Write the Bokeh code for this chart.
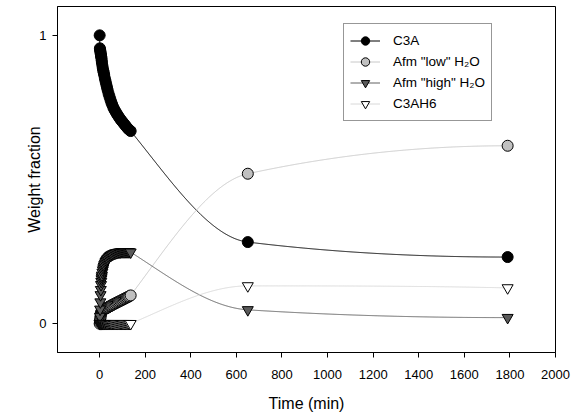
import numpy as np
from bokeh.plotting import figure
from bokeh.models import FixedTicker, Range1d, Legend, LegendItem
from bokeh.embed import file_html
from bokeh.resources import INLINE

# ---------------- data ----------------
t_dense = [0, 1, 2, 3, 4, 5, 6, 7, 8, 9, 10, 12, 14, 16, 18, 20, 23, 26, 29, 32, 35,
           39, 43, 47, 51, 55, 60, 65, 70, 75, 80, 85, 90, 95, 100, 105, 110, 115,
           120, 125, 130, 136]
t_late = [650, 1790]

c3a_dense = [1.000, 0.955, 0.950, 0.945, 0.940, 0.935, 0.930, 0.925, 0.920, 0.912,
             0.905, 0.895, 0.885, 0.877, 0.870, 0.862, 0.850, 0.840, 0.830, 0.820,
             0.810, 0.798, 0.788, 0.778, 0.768, 0.760, 0.750, 0.742, 0.735, 0.728,
             0.722, 0.716, 0.710, 0.705, 0.700, 0.695, 0.690, 0.685, 0.680, 0.676,
             0.672, 0.668]
c3a_late = [0.283, 0.231]

low_dense = [0.000, 0.006, 0.012, 0.018, 0.025, 0.030, 0.035, 0.039, 0.042, 0.044,
             0.046, 0.047, 0.048, 0.0485, 0.049, 0.050, 0.051, 0.053, 0.054, 0.055,
             0.056, 0.058, 0.060, 0.061, 0.063, 0.065, 0.067, 0.069, 0.071, 0.073,
             0.075, 0.077, 0.079, 0.081, 0.083, 0.085, 0.087, 0.089, 0.091, 0.093,
             0.095, 0.098]
low_late = [0.520, 0.617]

high_dense = [0.000, 0.025, 0.050, 0.075, 0.100, 0.118, 0.135, 0.146, 0.155, 0.162,
              0.168, 0.178, 0.186, 0.193, 0.199, 0.204, 0.210, 0.215, 0.219, 0.223,
              0.226, 0.230, 0.233, 0.236, 0.238, 0.240, 0.242, 0.244, 0.245, 0.246,
              0.247, 0.248, 0.248, 0.249, 0.249, 0.249, 0.249, 0.249, 0.249, 0.249,
              0.249, 0.248]
high_late = [0.048, 0.021]

c3ah6_dense = [0.0] * len(t_dense)
c3ah6_late = [0.131, 0.124]

labels = ["C3A", 'Afm "low" H\u2082O', 'Afm "high" H\u2082O', "C3AH6"]
x_ticks = list(range(0, 2001, 200))
y_ticks = [0, 1]


# ---------------- smooth connecting line (monotone cubic) ----------------
def pchip(x, y, xs):
    x = np.asarray(x, float)
    y = np.asarray(y, float)
    n = len(x)
    h = np.diff(x)
    d = np.diff(y) / h
    m = np.zeros(n)
    for k in range(1, n - 1):
        if d[k - 1] * d[k] <= 0:
            m[k] = 0.0
        else:
            w1 = 2 * h[k] + h[k - 1]
            w2 = h[k] + 2 * h[k - 1]
            m[k] = (w1 + w2) / (w1 / d[k - 1] + w2 / d[k])

    def endpoint(h0, h1, d0, d1):
        mm = ((2 * h0 + h1) * d0 - h0 * d1) / (h0 + h1)
        if np.sign(mm) != np.sign(d0):
            mm = 0.0
        elif np.sign(d0) != np.sign(d1) and abs(mm) > abs(3 * d0):
            mm = 3 * d0
        return mm

    m[0] = endpoint(h[0], h[1], d[0], d[1])
    m[-1] = endpoint(h[-1], h[-2], d[-1], d[-2])
    xs = np.asarray(xs, float)
    idx = np.clip(np.searchsorted(x, xs, side="right") - 1, 0, n - 2)
    hh = h[idx]
    s = (xs - x[idx]) / hh
    h00 = 2 * s**3 - 3 * s**2 + 1
    h10 = s**3 - 2 * s**2 + s
    h01 = -2 * s**3 + 3 * s**2
    h11 = s**3 - s**2
    return h00 * y[idx] + h10 * hh * m[idx] + h01 * y[idx + 1] + h11 * hh * m[idx + 1]


FONT = "Liberation Sans"

p = figure(width=573, height=414, output_backend="svg", toolbar_location=None,
           x_range=Range1d(-185, 2000), y_range=Range1d(-0.1, 1.1),
           min_border_left=57, min_border_right=18, min_border_top=6, min_border_bottom=61)
p.background_fill_color = "white"
p.border_fill_color = "white"
p.outline_line_color = "black"
p.outline_line_width = 1
p.xgrid.visible = False
p.ygrid.visible = False

p.xaxis.ticker = FixedTicker(ticks=x_ticks)
p.yaxis.ticker = FixedTicker(ticks=y_ticks)
for ax in (p.xaxis, p.yaxis):
    ax.major_tick_in = 0
    ax.major_tick_out = 5
    ax.minor_tick_in = 0
    ax.minor_tick_out = 0
    ax.axis_line_color = "black"
    ax.major_tick_line_color = "black"
    ax.major_label_text_font = FONT
    ax.major_label_text_font_size = "13px"
    ax.major_label_text_color = "black"
    ax.axis_label_text_font = FONT
    ax.axis_label_text_font_size = "16px"
    ax.axis_label_text_font_style = "normal"
    ax.axis_label_text_color = "black"
p.xaxis.axis_label = "Time (min)"
p.yaxis.axis_label = "Weight fraction"
p.xaxis.major_label_standoff = 12
p.xaxis.axis_label_standoff = 13
p.yaxis.major_label_standoff = 6
p.yaxis.axis_label_standoff = -7

series = [
    (c3a_dense, c3a_late, "black", "circle", "black", "black"),
    (low_dense, low_late, "#c8c8c8", "circle", "#c0c0c0", "black"),
    (high_dense, high_late, "#606060", "inverted_triangle", "#5a5a5a", "black"),
    (c3ah6_dense, c3ah6_late, "#d8d8d8", "inverted_triangle", "white", "black"),
]

items = []
for (dense, late, lcol, marker, fcol, ocol), lab in zip(series, labels):
    # tail curve: smooth through the last early point and the two late points
    tail_t = [t_dense[-1]] + list(t_late)
    tail_v = [dense[-1]] + list(late)
    xs_tail = np.linspace(tail_t[0], tail_t[-1], 800)
    ys_tail = pchip(tail_t, tail_v, xs_tail)
    lx = list(t_dense) + list(xs_tail[1:])
    ly = list(dense) + list(ys_tail[1:])
    r_line = p.line(lx, ly, line_color=lcol, line_width=1)
    tx = list(t_dense) + list(t_late)
    vy = list(dense) + list(late)
    r_pts = p.scatter(tx, vy, marker=marker, size=11, fill_color=fcol,
                      line_color=ocol, line_width=1)
    items.append(LegendItem(label=lab, renderers=[r_line, r_pts]))

legend = Legend(items=items, location=(286, 231))
legend.label_text_font = FONT
legend.label_text_font_size = "13.5px"
legend.label_text_color = "black"
legend.glyph_width = 30
legend.glyph_height = 21
legend.label_height = 17
legend.label_standoff = 13
legend.spacing = 0
legend.padding = 6
legend.margin = 0
legend.border_line_color = "#303030"
legend.border_line_width = 1
legend.background_fill_color = "white"
legend.background_fill_alpha = 1.0
p.add_layout(legend, "center")

open("out.html", "w").write(file_html(p, INLINE))
